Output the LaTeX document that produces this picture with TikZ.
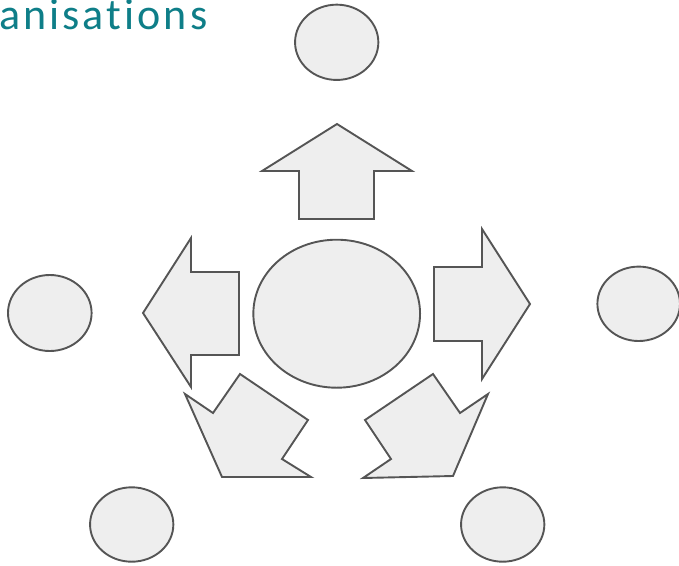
\documentclass[tikz,border=0pt]{standalone}
\usepackage{fontspec}
\usetikzlibrary{shapes.geometric}
\newfontfamily\titlefont[LetterSpace=7,Ligatures={NoCommon}]{Carlito}
\definecolor{teal1}{HTML}{0E7E88}
\definecolor{shapefill}{HTML}{EEEEEE}
\definecolor{shapeline}{HTML}{555555}
\begin{document}
\begin{tikzpicture}[x=1pt,y=-1pt,
  blob/.style={ellipse,draw=shapeline,fill=shapefill,line width=1.9pt,inner sep=0pt},
  arrowshape/.style={draw=shapeline,fill=shapefill,line width=1.9pt,line join=miter}]
\useasboundingbox (0,0) rectangle (679,565);
% title fragment
\node[anchor=base west,inner sep=0pt,text=teal1,font=\titlefont\fontsize{44}{48}\selectfont] (title) at (-1,29.3) {anisations};
% ellipses
\node[blob,minimum width=166.7pt,minimum height=148pt] (center) at (336.7,313.7) {};
\node[blob,minimum width=83.3pt,minimum height=75.3pt] (top) at (336.7,42.3) {};
\node[blob,minimum width=83.6pt,minimum height=76pt] (left) at (49.8,313) {};
\node[blob,minimum width=82.6pt,minimum height=74.4pt] (right) at (638.7,303.8) {};
\node[blob,minimum width=83.3pt,minimum height=74.4pt] (botleft) at (131.7,524.5) {};
\node[blob,minimum width=83.3pt,minimum height=74.4pt] (botright) at (502.7,524.5) {};
% block arrows
\draw[arrowshape] (337,124) -- (412,171) -- (374,171) -- (374,219) -- (299,219) -- (299,171) -- (262,171) -- cycle;
\draw[arrowshape] (143,313) -- (191,238) -- (191,272) -- (239,272) -- (239,355) -- (191,355) -- (191,387) -- cycle;
\draw[arrowshape] (530,304) -- (482,229) -- (482,267) -- (434,267) -- (434,341) -- (482,341) -- (482,379) -- cycle;
\draw[arrowshape] (240,374) -- (308,420) -- (282,459) -- (311,477) -- (222,477) -- (185,394) -- (213,413) -- cycle;
\draw[arrowshape] (433,374) -- (460,413) -- (488,394) -- (453,476) -- (363,478) -- (391,459) -- (365,420) -- cycle;
\end{tikzpicture}
\end{document}
